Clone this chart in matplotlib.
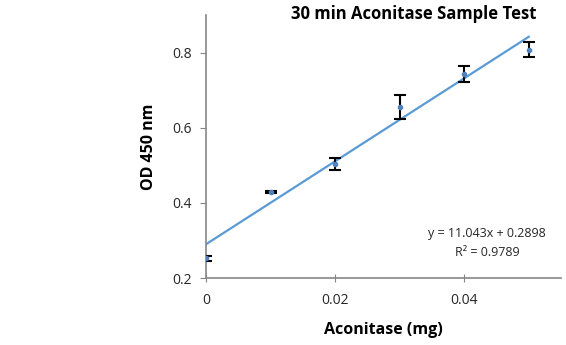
import matplotlib.pyplot as plt
import numpy as np

plt.rcParams['font.family'] = ['Open Sans', 'DejaVu Sans']

# data
aconitase_mg = [0.0, 0.01, 0.02, 0.03, 0.04, 0.05]
od450 = [0.252, 0.429, 0.503, 0.655, 0.744, 0.808]
od450_err = [0.006, 0.002, 0.016, 0.032, 0.021, 0.021]
slope, intercept = 11.043, 0.2898
r_squared = 0.9789

fig = plt.figure(figsize=(5.66, 3.45), dpi=100)
ax = fig.add_axes([206 / 566, 1 - 278 / 345, (561 - 206) / 566, (278 - 15) / 345])

xs = np.array([aconitase_mg[0], aconitase_mg[-1]])
ax.plot(xs, slope * xs + intercept, color='#5b9bd5', lw=1.6, zorder=2)
ax.errorbar(aconitase_mg, od450, yerr=od450_err, fmt='o', ms=3, color='#4f81bd',
            ecolor='black', elinewidth=1.5, capsize=4.5, capthick=1.5, zorder=3)

ax.set_xlim(0, 0.055)
ax.set_ylim(0.2, 0.9)
ax.set_xticks([0, 0.02, 0.04])
ax.set_xticklabels(['0', '0.02', '0.04'])
ax.set_yticks([0.2, 0.4, 0.6, 0.8])
ax.set_yticklabels(['0.2', '0.4', '0.6', '0.8'])

for side in ['top', 'right']:
    ax.spines[side].set_visible(False)
for side in ['left', 'bottom']:
    ax.spines[side].set_color('#868686')
    ax.spines[side].set_linewidth(1.2)
ax.tick_params(axis='both', colors='#868686', labelcolor='#262626', labelsize=10, length=4)
ax.tick_params(axis='x', direction='inout', length=6, pad=8)
ax.tick_params(axis='y', direction='out', length=4, pad=6)

ax.set_xlabel('Aconitase (mg)', fontsize=11.5, fontweight='bold', labelpad=10)
ax.set_ylabel('OD 450 nm', fontsize=11.5, fontweight='bold')
ax.yaxis.set_label_coords(-49 / 355, 0.5)
fig.text(414 / 566, 1 - 14 / 345, '30 min Aconitase Sample Test', fontsize=12,
         fontweight='bold', ha='center', va='center')
fig.text(487 / 566, 1 - 243 / 345,
         f'y = {slope}x + {intercept}\nR² = {r_squared}', fontsize=9,
         ha='center', va='center', linespacing=1.6, color='#262626')

plt.savefig('out.png', dpi=100)
